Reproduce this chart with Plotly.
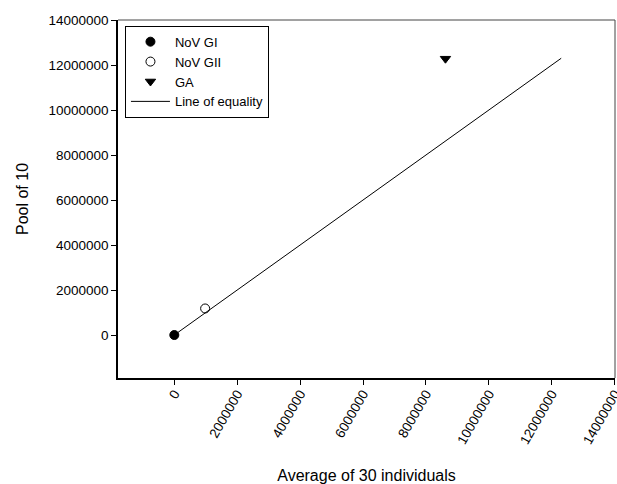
import plotly.graph_objects as go

# Pooled vs. individual-average concentrations
series_names = ["NoV GI", "NoV GII", "GA"]
avg_individuals = [0, 980000, 8620000]
pool_of_10 = [0, 1180000, 12280000]
marker_symbols = ["circle", "circle-open", "triangle-down"]

# Line of equality (y = x)
equality_x = [0, 12300000]
equality_y = [0, 12300000]

x_ticks = [0, 2000000, 4000000, 6000000, 8000000, 10000000, 12000000, 14000000]
y_ticks = [0, 2000000, 4000000, 6000000, 8000000, 10000000, 12000000, 14000000]

FONT = "Liberation Sans, Arial, sans-serif"

fig = go.Figure()

fig.add_trace(go.Scatter(
    x=equality_x, y=equality_y, mode="lines", name="Line of equality",
    line=dict(color="black", width=1), legendrank=4,
))

for i, name in enumerate(series_names):
    fig.add_trace(go.Scatter(
        x=[avg_individuals[i]], y=[pool_of_10[i]], mode="markers", name=name,
        marker=dict(symbol=marker_symbols[i], size=9, color="black",
                    line=dict(color="black", width=1)),
        legendrank=i + 1,
    ))

axis_common = dict(
    showline=True, linecolor="black", linewidth=1.5,
    ticks="outside", ticklen=5, tickwidth=1, tickcolor="black",
    showgrid=False, zeroline=False, automargin=False,
    tickfont=dict(family=FONT, size=13.5, color="black"),
    ticklabeloverflow="allow",
)

fig.update_xaxes(
    range=[-1790000, 14010000], tickvals=x_ticks,
    ticktext=[str(v) for v in x_ticks], tickangle=-60,
    ticklabelstandoff=-4,
    title=dict(text="Average of 30 individuals",
               font=dict(family=FONT, size=16, color="black"), standoff=25),
    **axis_common,
)
fig.update_yaxes(
    range=[-1910000, 14000000], tickvals=y_ticks,
    ticktext=[str(v) for v in y_ticks],
    title=dict(text="Pool of 10",
               font=dict(family=FONT, size=16, color="black"), standoff=16),
    **axis_common,
)

# thin frame on the top and right sides
fig.add_shape(type="line", xref="paper", yref="paper", x0=0, x1=1, y0=1, y1=1,
              line=dict(color="#444444", width=1))
fig.add_shape(type="line", xref="paper", yref="paper", x0=1, x1=1, y0=0, y1=1,
              line=dict(color="#444444", width=1))

fig.update_layout(
    width=617, height=484,
    margin=dict(l=118, r=2, t=20, b=106),
    plot_bgcolor="white", paper_bgcolor="white",
    font=dict(family=FONT, size=13.5, color="black"),
    showlegend=True,
    legend=dict(
        x=0.014, y=0.984, xanchor="left", yanchor="top",
        bordercolor="black", borderwidth=1, bgcolor="white",
        font=dict(family=FONT, size=13, color="black"),
        itemwidth=39, tracegroupgap=0,
    ),
)

fig.write_html("out.html")
